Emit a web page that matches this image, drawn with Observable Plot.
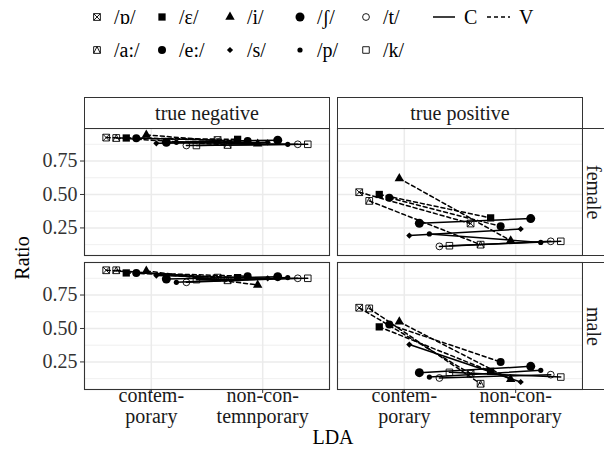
<!DOCTYPE html>
<html><head><meta charset="utf-8">
<script src="https://cdn.jsdelivr.net/npm/d3@7"></script>
<script src="https://cdn.jsdelivr.net/npm/@observablehq/plot@0.6"></script>
<style>
html,body{margin:0;padding:0;background:#fff;}
#chart{position:relative;width:604px;height:455px;overflow:hidden;font-family:"Liberation Serif","Times New Roman",Tinos,"DejaVu Serif",serif;color:#000;}
.abs{position:absolute;white-space:nowrap;line-height:1;}
.strip{position:absolute;box-sizing:border-box;border:1px solid #333;background:#fff;font-size:20px;display:flex;align-items:center;justify-content:center;color:#1a1a1a;}
.vert{writing-mode:vertical-rl;line-height:1;}
svg{overflow:visible;}
</style></head><body><div id="chart"></div>
<script>
// ---- data ----
const phonemes = ["/ɒ/", "/a:/", "/ɛ/", "/e:/", "/i/", "/s/", "/ʃ/", "/p/", "/t/", "/k/"];
const soundClass = ["V", "V", "V", "V", "V", "C", "C", "C", "C", "C"];
const ldaLevels = ["contem-\nporary", "non-con-\ntemnporary"];
const outcomes = ["true negative", "true positive"];
const sexes = ["female", "male"];
const yTicks = [0.25, 0.5, 0.75];
const yMinor = [0.125, 0.375, 0.625, 0.875];
const yDomain = [0.044, 0.993];

// ratios per phoneme (order of `phonemes`)
const tnFemaleContemporary    = [0.925, 0.922, 0.922, 0.920, 0.945, 0.882, 0.890, 0.890, 0.866, 0.866];
const tnFemaleNonContemporary = [0.907, 0.870, 0.912, 0.900, 0.878, 0.890, 0.906, 0.875, 0.875, 0.875];
const tnMaleContemporary      = [0.935, 0.935, 0.915, 0.915, 0.930, 0.895, 0.870, 0.845, 0.845, 0.865];
const tnMaleNonContemporary   = [0.880, 0.860, 0.880, 0.890, 0.825, 0.875, 0.887, 0.880, 0.875, 0.875];
const tpFemaleContemporary    = [0.517, 0.452, 0.500, 0.475, 0.620, 0.193, 0.285, 0.205, 0.112, 0.117];
const tpFemaleNonContemporary = [0.283, 0.125, 0.325, 0.262, 0.155, 0.242, 0.320, 0.142, 0.150, 0.150];
const tpMaleContemporary      = [0.655, 0.650, 0.512, 0.530, 0.550, 0.380, 0.170, 0.137, 0.130, 0.172];
const tpMaleNonContemporary   = [0.162, 0.087, 0.180, 0.250, 0.120, 0.100, 0.217, 0.187, 0.155, 0.137];

const panelValues = {
  "true negative|female": [tnFemaleContemporary, tnFemaleNonContemporary],
  "true negative|male":   [tnMaleContemporary, tnMaleNonContemporary],
  "true positive|female": [tpFemaleContemporary, tpFemaleNonContemporary],
  "true positive|male":   [tpMaleContemporary, tpMaleNonContemporary]
};

const rows = [];
for (const o of outcomes) for (const s of sexes) {
  const vals = panelValues[o + "|" + s];
  ldaLevels.forEach((lda, j) => phonemes.forEach((p, i) => {
    rows.push({outcome: o, sex: s, lda, ldaIndex: j + 1, phoneme: p, idx: i, cls: soundClass[i], ratio: vals[j][i]});
  }));
}
const dodgeWidth = 0.9;
const dodgeX = d => d.ldaIndex + (d.idx - (phonemes.length - 1) / 2) * dodgeWidth / phonemes.length;

const FONT = '"Liberation Serif", "Times New Roman", Tinos, "DejaVu Serif", serif';

// ---- symbols ----
const squareCross = {draw(ctx, size) { const h = Math.sqrt(size) / 2;
  ctx.moveTo(-h, -h); ctx.lineTo(h, -h); ctx.lineTo(h, h); ctx.lineTo(-h, h); ctx.closePath();
  ctx.moveTo(-h, -h); ctx.lineTo(h, h); ctx.moveTo(h, -h); ctx.lineTo(-h, h); }};
const squareTriangle = {draw(ctx, size) { const h = Math.sqrt(size) / 2;
  ctx.moveTo(-h, -h); ctx.lineTo(h, -h); ctx.lineTo(h, h); ctx.lineTo(-h, h); ctx.closePath();
  ctx.moveTo(-h, h); ctx.lineTo(0, -h); ctx.lineTo(h, h); }};
const shapeStyle = [
  {symbol: squareCross, r: 3.8, fill: "none", stroke: "black", sw: 0.9},
  {symbol: squareTriangle, r: 3.8, fill: "none", stroke: "black", sw: 0.9},
  {symbol: "square", r: 4.1, fill: "black", stroke: "none", sw: 0},
  {symbol: "circle", r: 4.0, fill: "black", stroke: "none", sw: 0},
  {symbol: "triangle", r: 3.5, fill: "black", stroke: "none", sw: 0},
  {symbol: "diamond2", r: 2.8, fill: "black", stroke: "none", sw: 0},
  {symbol: "circle", r: 4.5, fill: "black", stroke: "none", sw: 0},
  {symbol: "circle", r: 2.6, fill: "black", stroke: "none", sw: 0},
  {symbol: "circle", r: 3.4, fill: "none", stroke: "black", sw: 0.9},
  {symbol: "square", r: 3.7, fill: "none", stroke: "black", sw: 0.9}
];

// ---- layout ----
const chart = document.getElementById("chart");
const panelW = 245, panelH = 127;
const colLeft = [84, 337], rowTop = [128, 262];
const marginLeft = 84, marginBottom = 45;

function makePanel(oi, si) {
  const sub = rows.filter(d => d.outcome === outcomes[oi] && d.sex === sexes[si]);
  const isLeft = oi === 0, isBottom = si === 1;
  const marks = [
    Plot.ruleY(yMinor, {y: d => d, stroke: "#ececec", strokeWidth: 0.8}),
    Plot.ruleY(yTicks, {y: d => d, stroke: "#ebebeb", strokeWidth: 1.5}),
    Plot.ruleX(ldaLevels, {x: (d, i) => i + 1, stroke: "#ebebeb", strokeWidth: 1.5}),
    Plot.line(sub.filter(d => d.cls === "V"), {x: dodgeX, y: "ratio", z: "phoneme", stroke: "black", strokeWidth: 1.5, strokeDasharray: "4,3"}),
    Plot.line(sub.filter(d => d.cls === "C"), {x: dodgeX, y: "ratio", z: "phoneme", stroke: "black", strokeWidth: 1.5}),
    ...phonemes.map((p, i) => {
      const st = shapeStyle[i];
      return Plot.dot(sub.filter(d => d.idx === i), {x: dodgeX, y: "ratio", symbol: st.symbol, r: st.r, fill: st.fill, stroke: st.stroke, strokeWidth: st.sw});
    }),
    Plot.frame({stroke: "#333", strokeWidth: 1.1})
  ];
  if (isBottom) {
    marks.push(Plot.text(ldaLevels, {x: (d, i) => i + 1, text: d => d, frameAnchor: "bottom", lineAnchor: "top", dy: -2, fontSize: 20, lineHeight: 1.05, fill: "#1a1a1a", fontFamily: FONT}));
  }
  const svg = Plot.plot({
    width: (isLeft ? marginLeft : 0) + panelW,
    height: panelH + (isBottom ? marginBottom : 0),
    marginLeft: isLeft ? marginLeft : 0,
    marginRight: 0, marginTop: 0,
    marginBottom: isBottom ? marginBottom : 0,
    style: {fontFamily: FONT, fontSize: "20px", color: "#333", background: "transparent", overflow: "visible"},
    x: {domain: [0.4, 2.6], ticks: [1, 2], tickFormat: () => "", tickSize: 4, axis: isBottom ? "bottom" : null, label: null},
    y: {domain: yDomain, ticks: yTicks, tickFormat: d3.format(".2f"), tickSize: 4, tickPadding: 3, axis: isLeft ? "left" : null, label: null},
    marks
  });
  svg.style.position = "absolute";
  svg.style.left = (isLeft ? colLeft[oi] - marginLeft : colLeft[oi]) + "px";
  svg.style.top = rowTop[si] + "px";
  svg.style.fontFamily = FONT;
  svg.querySelectorAll("text").forEach(t => t.style.fontFamily = FONT);
  chart.appendChild(svg);
}
for (let oi = 0; oi < 2; oi++) for (let si = 0; si < 2; si++) makePanel(oi, si);

// strips
outcomes.forEach((o, oi) => {
  const d = document.createElement("div");
  d.className = "strip";
  Object.assign(d.style, {left: colLeft[oi] + "px", top: "97px", width: panelW + 1 + "px", height: "32px"});
  d.textContent = o;
  chart.appendChild(d);
});
sexes.forEach((s, si) => {
  const d = document.createElement("div");
  d.className = "strip";
  Object.assign(d.style, {left: colLeft[1] + panelW + "px", top: rowTop[si] + "px", width: "22px", height: panelH + 1 + "px", borderRight: "none"});
  const t = document.createElement("span"); t.className = "vert"; t.textContent = s;
  d.appendChild(t);
  chart.appendChild(d);
});

// axis titles
function addText(txt, x, y, extra) {
  const s = document.createElement("div");
  s.className = "abs"; s.textContent = txt;
  Object.assign(s.style, {left: x + "px", top: y + "px", fontSize: "20px"}, extra || {});
  chart.appendChild(s);
  return s;
}
addText("LDA", 333, 437, {transform: "translate(-50%,-50%)"});
addText("Ratio", 22, 258, {transform: "translate(-50%,-50%) rotate(-90deg)"});

// legend
const legCols = [97, 162, 230, 300, 366];
const legRows = [17, 50];
phonemes.forEach((p, i) => {
  const col = Math.floor(i / 2), row = i % 2;
  const cx = legCols[col], cy = legRows[row];
  const st = shapeStyle[i];
  const sym = typeof st.symbol === "string" ? {circle: d3.symbolCircle, square: d3.symbolSquare, triangle: d3.symbolTriangle, diamond2: d3.symbolDiamond2}[st.symbol] : st.symbol;
  const svg = d3.create("svg").attr("width", 20).attr("height", 20)
    .style("position", "absolute").style("left", (cx - 10) + "px").style("top", (cy - 10) + "px");
  svg.append("path").attr("transform", "translate(10,10)")
    .attr("d", d3.symbol(sym, Math.PI * st.r * st.r)())
    .attr("fill", st.fill).attr("stroke", st.stroke).attr("stroke-width", st.sw);
  chart.appendChild(svg.node());
  addText(p, cx + 17, cy, {transform: "translateY(-50%)"});
});
// line-type legend
const lineKeys = [{cls: "C", x1: 433, x2: 455, dash: null}, {cls: "V", x1: 487, x2: 510, dash: "4,3"}];
lineKeys.forEach(k => {
  const svg = d3.create("svg").attr("width", k.x2 - k.x1).attr("height", 6)
    .style("position", "absolute").style("left", k.x1 + "px").style("top", (legRows[0] - 3) + "px");
  svg.append("line").attr("x1", 0).attr("x2", k.x2 - k.x1).attr("y1", 3).attr("y2", 3)
    .attr("stroke", "black").attr("stroke-width", 1.5).attr("stroke-dasharray", k.dash);
  chart.appendChild(svg.node());
  addText(k.cls, k.x2 + 9, legRows[0], {transform: "translateY(-50%)"});
});
</script></body></html>
